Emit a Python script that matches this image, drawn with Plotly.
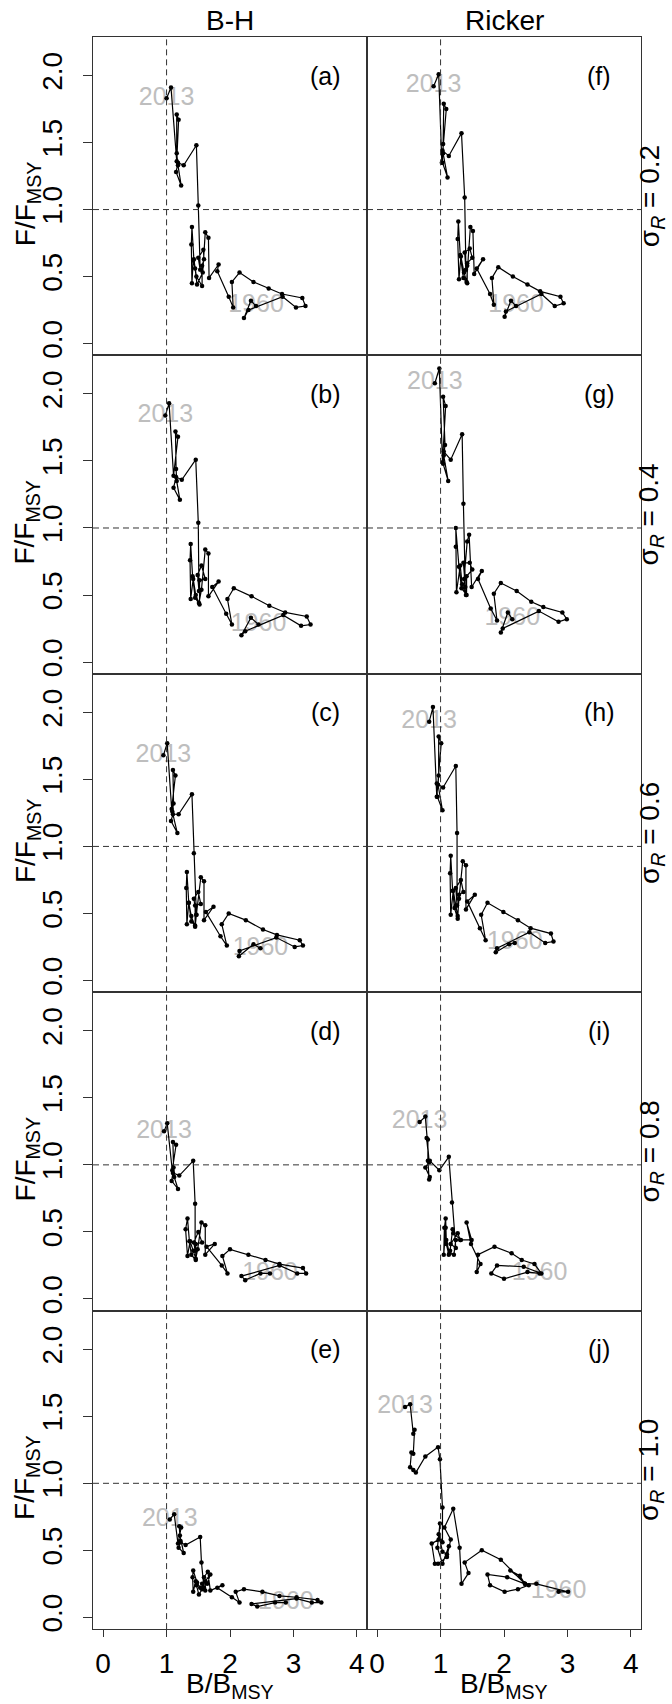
import plotly.graph_objects as go

# ---------------- data (B/BMSY, F/FMSY), first point = 1960, last = 2013 ----------------
b_bh_02 = [2.41,2.33,2.22,2.29,2.83,3.04,3.19,3.14,2.82,2.61,2.37,2.15,2.03,2.05,1.98,1.80,1.82,1.67,1.66,1.61,1.57,1.48,1.45,1.42,1.40,1.39,1.40,1.43,1.47,1.56,1.56,1.59,1.58,1.50,1.53,1.50,1.47,1.27,1.18,1.15,1.23,1.18,1.16,1.16,1.19,1.16,1.07,1.00]
f_bh_02 = [0.28,0.32,0.19,0.25,0.35,0.27,0.28,0.34,0.37,0.41,0.46,0.53,0.46,0.27,0.35,0.54,0.59,0.49,0.79,0.83,0.53,0.44,0.56,0.62,0.45,0.74,0.87,0.63,0.50,0.43,0.58,0.63,0.70,0.64,0.55,1.03,1.48,1.33,1.35,1.28,1.18,1.33,1.42,1.71,1.67,1.36,1.91,1.83]

b_bh_04 = [2.45,2.33,2.18,2.24,2.84,3.12,3.27,3.21,2.87,2.62,2.34,2.06,1.96,2.03,1.94,1.72,1.82,1.66,1.66,1.61,1.55,1.51,1.46,1.42,1.38,1.37,1.38,1.41,1.45,1.52,1.52,1.61,1.55,1.49,1.51,1.50,1.46,1.24,1.15,1.11,1.21,1.16,1.15,1.14,1.18,1.11,1.04,0.98]
f_bh_04 = [0.28,0.33,0.20,0.23,0.35,0.27,0.28,0.34,0.37,0.42,0.49,0.55,0.47,0.28,0.36,0.56,0.60,0.49,0.81,0.84,0.54,0.44,0.50,0.62,0.47,0.76,0.88,0.64,0.48,0.43,0.61,0.62,0.72,0.65,0.53,1.04,1.51,1.36,1.38,1.30,1.21,1.35,1.44,1.72,1.68,1.39,1.93,1.84]

b_bh_06 = [2.48,2.37,2.14,2.15,2.73,3.02,3.15,3.10,2.74,2.52,2.25,1.98,1.87,1.95,1.85,1.62,1.74,1.59,1.59,1.54,1.47,1.45,1.39,1.35,1.32,1.31,1.32,1.35,1.39,1.45,1.45,1.54,1.50,1.43,1.47,1.43,1.40,1.19,1.10,1.07,1.17,1.09,1.11,1.10,1.14,1.08,1.01,0.95]
f_bh_06 = [0.24,0.27,0.18,0.22,0.32,0.25,0.26,0.30,0.34,0.38,0.45,0.50,0.42,0.26,0.33,0.51,0.55,0.45,0.74,0.77,0.49,0.40,0.48,0.58,0.42,0.69,0.81,0.58,0.44,0.41,0.56,0.57,0.66,0.61,0.49,0.95,1.39,1.24,1.24,1.19,1.10,1.26,1.32,1.57,1.53,1.28,1.77,1.68]

b_bh_08 = [2.63,2.48,2.24,2.18,2.78,3.06,3.20,3.15,2.78,2.56,2.29,2.00,1.88,1.96,1.87,1.63,1.76,1.61,1.61,1.55,1.49,1.46,1.42,1.37,1.33,1.30,1.33,1.36,1.39,1.46,1.46,1.56,1.50,1.43,1.45,1.45,1.42,1.20,1.10,1.08,1.18,1.12,1.11,1.10,1.15,1.09,1.01,0.96]
f_bh_08 = [0.19,0.19,0.14,0.17,0.25,0.19,0.19,0.23,0.26,0.29,0.33,0.37,0.32,0.19,0.25,0.39,0.41,0.33,0.55,0.57,0.37,0.30,0.36,0.43,0.32,0.52,0.60,0.43,0.33,0.29,0.41,0.42,0.50,0.42,0.36,0.71,1.03,0.92,0.94,0.88,0.82,0.91,0.98,1.17,1.15,0.96,1.31,1.25]

b_bh_10 = [2.88,2.71,2.43,2.34,3.05,3.29,3.44,3.38,3.05,2.78,2.51,2.22,2.09,2.15,2.03,1.80,1.88,1.69,1.65,1.59,1.56,1.51,1.47,1.46,1.42,1.41,1.42,1.48,1.53,1.61,1.61,1.69,1.64,1.56,1.59,1.55,1.53,1.30,1.22,1.19,1.27,1.22,1.21,1.20,1.23,1.18,1.12,1.05]
f_bh_10 = [0.11,0.11,0.08,0.10,0.14,0.11,0.11,0.13,0.15,0.16,0.19,0.21,0.19,0.11,0.15,0.22,0.24,0.20,0.34,0.30,0.21,0.17,0.24,0.27,0.19,0.30,0.35,0.26,0.22,0.20,0.27,0.32,0.25,0.25,0.22,0.41,0.60,0.54,0.56,0.52,0.48,0.57,0.61,0.68,0.67,0.55,0.77,0.73]

b_rk_02 = [2.19,2.11,2.01,2.03,2.59,2.80,2.94,2.89,2.57,2.37,2.14,1.91,1.81,1.84,1.78,1.57,1.67,1.53,1.51,1.47,1.42,1.41,1.37,1.32,1.29,1.27,1.28,1.31,1.36,1.42,1.42,1.50,1.46,1.38,1.40,1.38,1.33,1.13,1.03,1.03,1.11,1.04,1.04,1.05,1.09,1.02,0.97,0.89]
f_rk_02 = [0.28,0.32,0.20,0.24,0.37,0.28,0.30,0.35,0.39,0.44,0.50,0.57,0.49,0.29,0.37,0.56,0.63,0.52,0.84,0.87,0.58,0.46,0.53,0.65,0.48,0.78,0.91,0.66,0.49,0.45,0.60,0.64,0.71,0.68,0.55,1.09,1.57,1.40,1.44,1.35,1.24,1.42,1.49,1.79,1.75,1.35,2.01,1.92]

b_rk_04 = [2.13,2.06,1.95,1.98,2.55,2.86,2.99,2.92,2.62,2.43,2.20,1.95,1.84,1.89,1.79,1.59,1.65,1.49,1.45,1.42,1.37,1.40,1.34,1.31,1.25,1.24,1.24,1.29,1.33,1.41,1.41,1.50,1.46,1.36,1.39,1.36,1.34,1.16,1.05,1.04,1.12,1.05,1.07,1.04,1.08,1.03,0.98,0.91]
f_rk_04 = [0.32,0.37,0.22,0.25,0.38,0.30,0.32,0.37,0.41,0.45,0.53,0.59,0.51,0.31,0.40,0.62,0.68,0.56,0.95,0.90,0.62,0.50,0.58,0.72,0.52,0.86,1.00,0.71,0.55,0.50,0.64,0.69,0.74,0.74,0.56,1.18,1.70,1.51,1.57,1.48,1.35,1.54,1.62,1.98,1.91,1.49,2.19,2.08]

b_rk_06 = [2.17,2.08,1.87,1.89,2.40,2.65,2.78,2.74,2.42,2.22,1.99,1.74,1.64,1.71,1.62,1.42,1.54,1.40,1.40,1.35,1.29,1.27,1.24,1.20,1.16,1.15,1.16,1.19,1.22,1.27,1.29,1.36,1.32,1.24,1.26,1.26,1.24,1.04,0.94,0.95,1.03,0.96,0.97,0.97,1.01,0.94,0.88,0.82]
f_rk_06 = [0.28,0.27,0.21,0.24,0.36,0.28,0.29,0.35,0.39,0.45,0.51,0.58,0.49,0.30,0.39,0.59,0.64,0.53,0.86,0.89,0.61,0.48,0.56,0.67,0.49,0.80,0.93,0.67,0.54,0.46,0.64,0.66,0.75,0.69,0.56,1.10,1.60,1.44,1.47,1.37,1.27,1.46,1.53,1.82,1.77,1.37,2.04,1.93]

b_rk_08 = [2.56,2.37,2.00,1.80,1.89,2.31,2.59,2.48,2.28,2.12,1.85,1.59,1.57,1.63,1.48,1.41,1.49,1.32,1.20,1.19,1.15,1.13,1.09,1.08,1.05,1.06,1.08,1.09,1.14,1.21,1.24,1.31,1.27,1.16,1.24,1.18,1.13,0.98,0.83,0.76,0.83,0.82,0.80,0.80,0.78,0.82,0.76,0.67]
f_rk_08 = [0.19,0.20,0.15,0.19,0.25,0.24,0.19,0.26,0.29,0.34,0.39,0.33,0.20,0.26,0.41,0.57,0.44,0.44,0.49,0.52,0.36,0.33,0.41,0.53,0.33,0.53,0.60,0.44,0.34,0.33,0.44,0.44,0.49,0.41,0.38,0.72,1.06,0.96,1.03,0.98,0.91,0.89,1.03,1.19,1.20,1.02,1.36,1.32]

b_rk_10 = [2.86,3.01,2.51,2.33,2.25,2.10,2.39,2.22,2.01,1.78,1.74,2.05,2.33,1.95,1.65,1.38,1.44,1.33,1.30,1.20,1.06,1.16,1.10,0.96,0.91,0.86,0.97,0.99,0.95,1.03,1.13,1.10,1.03,0.97,1.03,1.03,0.99,0.96,0.76,0.61,0.57,0.52,0.54,0.57,0.59,0.57,0.52,0.44]
f_rk_10 = [0.19,0.19,0.25,0.25,0.31,0.35,0.24,0.21,0.19,0.24,0.32,0.30,0.25,0.43,0.50,0.41,0.33,0.25,0.52,0.81,0.67,0.58,0.45,0.40,0.40,0.55,0.58,0.70,0.52,0.40,0.53,0.47,0.49,0.62,0.56,0.82,1.18,1.27,1.20,1.08,1.10,1.12,1.23,1.22,1.40,1.37,1.59,1.57]

column_titles = ["B-H", "Ricker"]
sigma_labels = ["0.2", "0.4", "0.6", "0.8", "1.0"]
panel_letters = ["(a)", "(b)", "(c)", "(d)", "(e)", "(f)", "(g)", "(h)", "(i)", "(j)"]
year_labels = ["1960", "2013"]
x_ticks = [0, 1, 2, 3, 4]
y_ticks = [0.0, 0.5, 1.0, 1.5, 2.0]
y_ticktext = ["0.0", "0.5", "1.0", "1.5", "2.0"]

series_b = [b_bh_02, b_bh_04, b_bh_06, b_bh_08, b_bh_10,
            b_rk_02, b_rk_04, b_rk_06, b_rk_08, b_rk_10]
series_f = [f_bh_02, f_bh_04, f_bh_06, f_bh_08, f_bh_10,
            f_rk_02, f_rk_04, f_rk_06, f_rk_08, f_rk_10]

# ---------------- layout geometry (pixels) ----------------
W, H = 672, 1704
col_x = [(93, 367), (367, 641)]
row_top0, row_h = 37, 319
FONT = "Liberation Sans, Arial, Helvetica, sans-serif"
XR = [-0.16, 4.16]
YR = [-0.088, 2.288]
BIG = 28

fig = go.Figure()
layout = dict(width=W, height=H, margin=dict(l=0, r=0, t=0, b=0),
              plot_bgcolor="white", paper_bgcolor="white", showlegend=False,
              font=dict(family=FONT, color="black", size=BIG))
shapes, annotations = [], []

for i in range(10):
    col, row = divmod(i, 5)
    n = i + 1
    xs = "" if n == 1 else str(n)
    x0, x1 = col_x[col]
    top = row_top0 + row * row_h
    bot = top + row_h
    xdom = [x0 / W, x1 / W]
    ydom = [1 - bot / H, 1 - top / H]

    xa = dict(domain=xdom, range=XR, anchor="y" + xs, showgrid=False, zeroline=False,
              showline=True, mirror=True, linecolor="#333", linewidth=1,
              tickvals=x_ticks, fixedrange=True)
    if row == 4:
        xa.update(ticks="outside", ticklen=7, tickcolor="#333", showticklabels=True,
                  ticklabelstandoff=2,
                  tickfont=dict(size=BIG, family=FONT, color="black"))
    else:
        xa.update(ticks="", showticklabels=False)
    ya = dict(domain=ydom, range=YR, anchor="x" + xs, showgrid=False, zeroline=False,
              showline=True, mirror=True, linecolor="#333", linewidth=1,
              tickvals=y_ticks, ticktext=y_ticktext, fixedrange=True)
    if col == 0:
        ya.update(ticks="outside", ticklen=9, tickcolor="#333", showticklabels=True,
                  tickangle=-90, ticklabelstandoff=10,
                  tickfont=dict(size=BIG, family=FONT, color="black"))
    else:
        ya.update(ticks="", showticklabels=False)
    layout["xaxis" + xs] = xa
    layout["yaxis" + xs] = ya

    bx, fy = series_b[i], series_f[i]
    # year labels (drawn first so lines sit on top)
    fig.add_trace(go.Scatter(x=[bx[0], bx[-1]], y=[fy[0], fy[-1]], mode="text",
                             text=year_labels, textposition="middle center",
                             textfont=dict(size=25, color="#bebebe", family=FONT),
                             xaxis="x" + xs, yaxis="y" + xs, hoverinfo="skip"))
    fig.add_trace(go.Scatter(x=bx, y=fy, mode="lines+markers",
                             line=dict(color="black", width=1.2),
                             marker=dict(color="black", size=4.5),
                             xaxis="x" + xs, yaxis="y" + xs))

    # reference lines at 1
    shapes.append(dict(type="line", xref="x" + xs, yref="y" + xs + " domain",
                       x0=1, x1=1, y0=0, y1=1,
                       line=dict(color="#333", width=1, dash="6px,4px")))
    shapes.append(dict(type="line", xref="x" + xs + " domain", yref="y" + xs,
                       x0=0, x1=1, y0=1, y1=1,
                       line=dict(color="#333", width=1, dash="6px,4px")))

    annotations.append(dict(text=panel_letters[i], x=3.5, y=2.0, xref="x" + xs, yref="y" + xs,
                            showarrow=False, xanchor="center", yanchor="middle",
                            font=dict(size=25, family=FONT, color="black")))
    ymid = 1 - (top + bot) / 2 / H
    if col == 0:
        annotations.append(dict(text="F/F<sub>MSY</sub>", x=27 / W, y=1 - ((top + bot) / 2 + 8) / H,
                                xref="paper", yref="paper", showarrow=False, textangle=-90,
                                xanchor="center", yanchor="middle",
                                font=dict(size=BIG, family=FONT, color="black")))
    else:
        annotations.append(dict(text="σ<sub><i>R</i></sub> = " + sigma_labels[row],
                                x=651 / W, y=ymid, xref="paper", yref="paper", showarrow=False,
                                textangle=-90, xanchor="center", yanchor="middle",
                                font=dict(size=BIG, family=FONT, color="black")))
    if row == 4:
        annotations.append(dict(text="B/B<sub>MSY</sub>", x=(x0 + x1) / 2 / W, y=1 - 1688 / H,
                                xref="paper", yref="paper", showarrow=False,
                                xanchor="center", yanchor="middle",
                                font=dict(size=BIG, family=FONT, color="black")))
    if row == 0:
        annotations.append(dict(text=column_titles[col], x=(x0 + x1) / 2 / W, y=1 - 21 / H,
                                xref="paper", yref="paper", showarrow=False,
                                xanchor="center", yanchor="middle",
                                font=dict(size=BIG, family=FONT, color="black")))

layout["shapes"] = shapes
layout["annotations"] = annotations
fig.update_layout(**layout)
fig.write_html("out.html")
